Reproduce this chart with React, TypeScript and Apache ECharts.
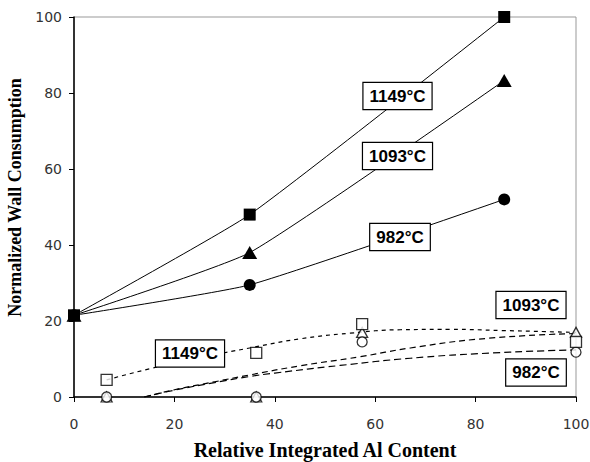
import React, { useEffect, useRef } from "react";
import * as echarts from "echarts";

// Solid-line series (filled markers)
const xSolid = [0, 35, 85.7];
const y1149 = [21.5, 48, 100];
const y1093 = [21.5, 38, 83.3];
const y982 = [21.5, 29.5, 52];

// Open-marker series
const xOpen = [6.5, 36.3, 57.4, 100];
const open1149 = [4.5, 11.6, 19.2, 14.5];
const open1093 = [0, 0, 17, 17];
const open982 = [0, 0, 14.5, 11.8];

// Dashed trend lines
const trendX1149 = [6.5, 15, 25, 35, 45, 55, 65, 75, 85, 100];
const trendY1149 = [4.5, 7.4, 10.3, 12.9, 15.3, 16.8, 17.7, 17.8, 17.5, 17.0];
const trendX1093 = [14, 20, 28, 35, 45, 57, 67, 82, 100];
const trendY1093 = [0, 1.9, 4.0, 5.8, 8.2, 10.6, 12.9, 15.4, 16.7];
const trendX982 = [14, 20, 28, 35, 40, 53, 67, 83.5, 100];
const trendY982 = [0, 1.8, 3.8, 5.4, 6.3, 8.3, 10.2, 11.6, 12.4];

const xTicks = [0, 20, 40, 60, 80, 100];

const labels = [
  { text: "1149°C", x: 397.5, y: 96 },
  { text: "1093°C", x: 397.5, y: 156 },
  { text: "982°C", x: 400, y: 237 },
  { text: "1149°C", x: 190, y: 353.5 },
  { text: "1093°C", x: 531, y: 305 },
  { text: "982°C", x: 536, y: 372.5 },
];

const pairs = (xs: number[], ys: number[]) => xs.map((x, i) => [x, ys[i]]);

export default function App() {
  const ref = useRef<HTMLDivElement>(null);
  useEffect(() => {
    if (!ref.current) return;
    const chart = echarts.init(ref.current, undefined, { renderer: "svg" });
    const axisLabel = {
      fontFamily: "DejaVu Sans",
      fontSize: 14,
      color: "#333",
    };
    const nameStyle = {
      fontFamily: "Liberation Serif",
      fontWeight: "bold" as const,
      color: "#000",
    };
    const solid = (data: number[][], symbol: string, size: any) => ({
      type: "line",
      data,
      smooth: 0.15,
      symbol,
      symbolSize: size,
      showSymbol: true,
      lineStyle: { color: "#000", width: 1 },
      itemStyle: { color: "#000", borderWidth: 0 },
      emphasis: { disabled: true },
      z: 3,
    });
    const trend = (data: number[][], dash: number[]) => ({
      type: "line",
      data,
      smooth: true,
      symbol: "none",
      lineStyle: { color: "#000", width: 1.2, type: dash },
      emphasis: { disabled: true },
      z: 2,
    });
    const open = (data: number[][], symbol: string, size: any) => ({
      type: "scatter",
      data,
      symbol,
      symbolSize: size,
      itemStyle: { color: "#fff", borderColor: "#000", borderWidth: 1.3 },
      emphasis: { disabled: true },
      z: 4,
    });
    chart.setOption({
      animation: false,
      backgroundColor: "#fff",
      grid: {
        left: 74,
        right: 14,
        top: 17,
        bottom: 65,
        show: true,
        borderColor: "#999",
        borderWidth: 1,
        backgroundColor: "transparent",
        containLabel: false,
        outerBoundsMode: "none",
      },
      xAxis: {
        type: "value",
        min: xTicks[0],
        max: xTicks[xTicks.length - 1],
        interval: 20,
        axisLine: { lineStyle: { color: "#000", width: 1.5 } },
        axisTick: { show: true, length: 5, lineStyle: { color: "#000" } },
        axisLabel: { ...axisLabel, margin: 20 },
        splitLine: { show: false },
        name: "Relative Integrated Al Content",
        nameLocation: "middle",
        nameGap: 43,
        nameTextStyle: { ...nameStyle, fontSize: 20 },
      },
      yAxis: {
        type: "value",
        min: 0,
        max: 100,
        interval: 20,
        axisLine: { lineStyle: { color: "#000", width: 1.5 } },
        axisTick: { show: true, length: 5, lineStyle: { color: "#000" } },
        axisLabel: { ...axisLabel, margin: 12 },
        splitLine: { show: false },
        name: "Normalized Wall Consumption",
        nameLocation: "middle",
        nameGap: 42,
        nameTextStyle: { ...nameStyle, fontSize: 18, padding: [0, 0, 0, 19] },
      },
      series: [
        trend(pairs(trendX1149, trendY1149), [4, 4]),
        trend(pairs(trendX1093, trendY1093), [6, 4]),
        trend(pairs(trendX982, trendY982), [7, 4]),
        solid(pairs(xSolid, y1149), "rect", 12),
        solid(pairs(xSolid, y1093), "triangle", [15, 13]),
        solid(pairs(xSolid, y982), "circle", 12),
        open(pairs(xOpen, open1093), "triangle", [11, 10]),
        open(pairs(xOpen, open982), "circle", 10),
        open(pairs(xOpen, open1149), "rect", 11),
      ],
      graphic: labels.map((l) => ({
        type: "text",
        x: l.x,
        y: l.y,
        z: 100,
        style: {
          text: l.text,
          font: 'bold 17px "Liberation Sans"',
          fill: "#000",
          align: "center",
          verticalAlign: "middle",
          backgroundColor: "#fff",
          borderColor: "#000",
          borderWidth: 1.2,
          padding: [5, 6, 4, 6],
        },
      })),
    });
    return () => chart.dispose();
  }, []);
  return (
    <div
      ref={ref}
      style={{ position: "fixed", left: 0, top: 0, width: 590, height: 462 }}
    />
  );
}
